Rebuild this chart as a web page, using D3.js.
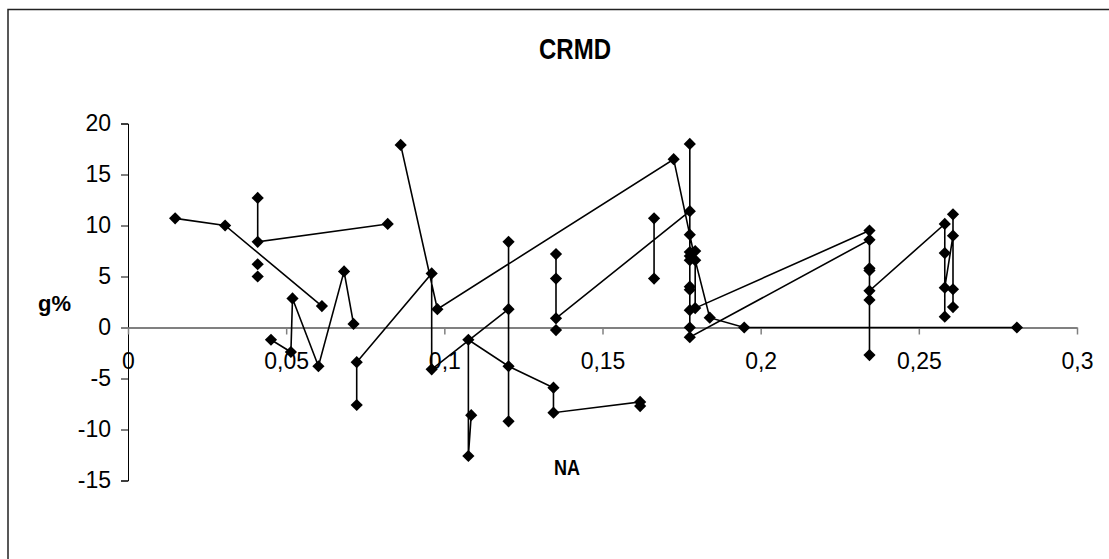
<!DOCTYPE html>
<html>
<head>
<meta charset="utf-8">
<script src="https://cdn.jsdelivr.net/npm/d3@7"></script>
<style>
  body { margin: 0; background: #fff; }
  svg { display: block; font-family: Arial, "Liberation Sans", sans-serif; }
</style>
</head>
<body>
<svg width="1109" height="559"></svg>
<script>
const width = 1109;
const height = 559;

// NA on x, g% on y; null marks a break in the line
const naValues = [
  0.0149, 0.0307, 0.0613, null,
  0.041, 0.041, 0.0821, null,
  0.041, null,
  0.041, null,
  0.0452, 0.0515, 0.052, 0.0602, 0.0683, 0.0713, null,
  0.0723, 0.0723, 0.096, 0.096, 0.1203, 0.1203, 0.1203, null,
  0.0862, 0.0978, 0.1725, 0.1793, 0.1839, 0.1948, 0.281, null,
  0.1085, 0.1076, 0.1076, 0.1203, 0.1345, 0.1345, 0.1619, 0.1619, null,
  0.1663, 0.1663, null,
  0.1353, null,
  0.1353, 0.1353, 0.1353, 0.1776, 0.1776, 0.1776, 0.1776, 0.1776, 0.1776, 0.1776,
  0.1776, 0.1776, 0.1776, 0.1776, 0.2344, 0.2344, 0.2344, 0.2344, 0.2344, null,
  0.1793, 0.1793, 0.2344, 0.2344, 0.2582, 0.2582, 0.2582, 0.2582, 0.2608, 0.2608,
  0.2608, 0.2608
];
const gValues = [
  10.7, 10.0, 2.1, null,
  12.7, 8.4, 10.15, null,
  6.2, null,
  5.0, null,
  -1.2, -2.4, 2.85, -3.8, 5.5, 0.35, null,
  -7.6, -3.4, 5.3, -4.1, 1.8, 8.4, -9.2, null,
  17.9, 1.8, 16.5, 6.6, 0.96, 0.0, 0.0, null,
  -8.6, -12.6, -1.2, -3.8, -5.9, -8.35, -7.3, -7.7, null,
  10.7, 4.8, null,
  -0.25, null,
  7.2, 4.8, 0.9, 11.4, 18.0, 9.1, 7.4, 7.0, 6.6, 4.0,
  3.7, 1.7, 0.0, -0.95, 8.6, 5.8, 5.6, 2.7, -2.7, null,
  7.5, 1.9, 9.5, 3.6, 10.15, 7.3, 1.06, 3.9, 9.0, 11.1,
  3.75, 2.0
];

const xTicks = [0, 0.05, 0.1, 0.15, 0.2, 0.25, 0.3];
const xTickLabels = ["0", "0,05", "0,1", "0,15", "0,2", "0,25", "0,3"];
const yTicks = [-15, -10, -5, 0, 5, 10, 15, 20];

const points = naValues.map((x, i) => ({ x: x, y: gValues[i] }));

const x = d3.scaleLinear().domain([0, 0.3]).range([128, 1077]);
const y = d3.scaleLinear().domain([-15, 20]).range([480.5, 123.5]);

const svg = d3.select("svg");

// chart border (right and bottom edges run off the picture)
svg.append("rect")
    .attr("x", 8).attr("y", 9.5)
    .attr("width", 1300).attr("height", 700)
    .attr("fill", "none")
    .attr("stroke", "#222")
    .attr("stroke-width", 1.5);

svg.append("text")
    .attr("x", 575).attr("y", 59)
    .attr("text-anchor", "middle")
    .attr("font-weight", "bold")
    .attr("font-size", 30)
    .attr("textLength", 72)
    .attr("lengthAdjust", "spacingAndGlyphs")
    .text("CRMD");

// y axis
const yAxis = svg.append("g")
    .attr("transform", `translate(${x(0)},0)`)
    .call(d3.axisLeft(y).tickValues(yTicks).tickFormat(d => String(d))
      .tickSize(7).tickPadding(10));
yAxis.select(".domain").attr("stroke", "#000");
yAxis.selectAll(".tick line").attr("stroke", "#000");
yAxis.selectAll("text")
    .attr("font-size", 23)
    .attr("font-family", "Arial, 'Liberation Sans', sans-serif")
    .attr("fill", "#000");

// x axis through y = 0
const xAxis = svg.append("g")
    .attr("transform", `translate(0,${y(0)})`)
    .call(d3.axisBottom(x).tickValues(xTicks).tickFormat((d, i) => xTickLabels[i])
      .tickSize(7).tickSizeOuter(0).tickPadding(18));
xAxis.select(".domain").attr("stroke", "#808080").attr("stroke-width", 2);
xAxis.selectAll(".tick line").attr("stroke", "#808080").attr("stroke-width", 1.5);
xAxis.selectAll("text")
    .attr("font-size", 23)
    .attr("font-family", "Arial, 'Liberation Sans', sans-serif")
    .attr("fill", "#000");

svg.append("text")
    .attr("x", 38).attr("y", 311)
    .attr("font-weight", "bold")
    .attr("font-size", 22)
    .text("g%");

svg.append("text")
    .attr("x", 567).attr("y", 475)
    .attr("text-anchor", "middle")
    .attr("font-weight", "bold")
    .attr("font-size", 22)
    .attr("textLength", 26)
    .attr("lengthAdjust", "spacingAndGlyphs")
    .text("NA");

const line = d3.line()
    .defined(d => d.x !== null && d.y !== null)
    .x(d => x(d.x))
    .y(d => y(d.y));

svg.append("path")
    .datum(points)
    .attr("fill", "none")
    .attr("stroke", "#000")
    .attr("stroke-width", 1.6)
    .attr("d", line);

const diamond = d3.symbol().type(d3.symbolDiamond2).size(95);

svg.append("g")
  .selectAll("path")
  .data(points.filter(d => d.x !== null))
  .join("path")
    .attr("transform", d => `translate(${x(d.x)},${y(d.y)})`)
    .attr("d", diamond)
    .attr("fill", "#000");
</script>
</body>
</html>
